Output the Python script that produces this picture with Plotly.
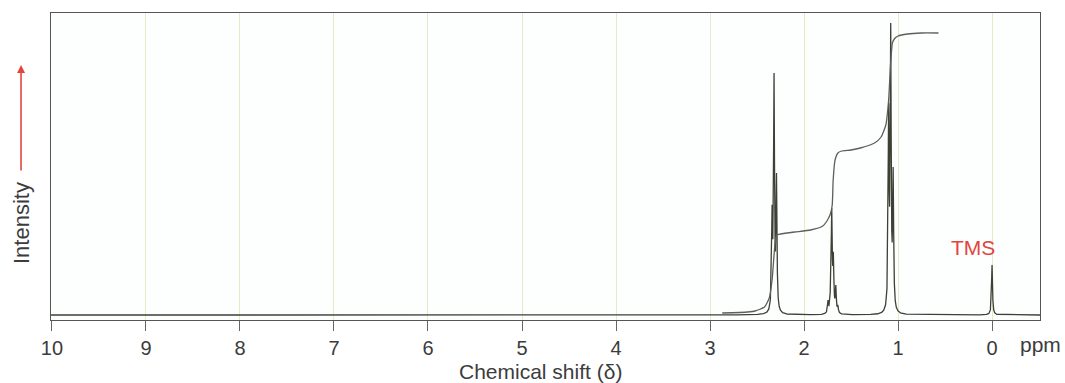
import numpy as np
import plotly.graph_objects as go

# ---- data ----
peak_ppm = [2.340, 2.319, 2.293, 1.745, 1.716, 1.705, 1.688, 1.662, 1.640, 1.100, 1.078, 1.052, 0.000]
peak_height = [110, 242, 142, 15, 42, 107, 63, 30, 10, 212, 292, 148, 50]

integ_ppm = [2.87, 2.60, 2.52, 2.42, 2.37, 2.34, 2.31, 2.29, 2.25, 2.10, 1.93, 1.80, 1.75, 1.72, 1.70,
             1.69, 1.67, 1.64, 1.60, 1.50, 1.40, 1.25, 1.18, 1.13, 1.10, 1.08, 1.06, 1.04, 1.00, 0.90, 0.75, 0.57]
integ_val = [2, 3, 4, 8, 17, 35, 70, 80, 81, 83, 85, 89, 95, 101, 110,
             135, 155, 162, 164, 165, 167, 172, 178, 190, 215, 250, 272, 276, 279, 281, 282, 282]

tick_vals = [10, 9, 8, 7, 6, 5, 4, 3, 2, 1, 0]
tick_text = ["10", "9", "8", "7", "6", "5", "4", "3", "2", "1", "0"]

# ---- build spectrum from Lorentzian lines ----
gamma = 0.006
px = np.array(peak_ppm)
ph = np.array(peak_height, dtype=float)
A = gamma**2 / ((px[:, None] - px[None, :])**2 + gamma**2)
amps = np.clip(np.linalg.solve(A, ph), 0, None)
grid = np.union1d(np.linspace(-0.51, 10.01, 21000), px)
spec = (amps[None, :] * gamma**2 / ((grid[:, None] - px[None, :])**2 + gamma**2)).sum(axis=1)

FONT = "Liberation Sans, Arial, sans-serif"
TXT = "#3c3c3c"
RED = "#e2453f"

fig = go.Figure()
fig.add_trace(go.Scatter(x=grid, y=spec, mode="lines",
                         line=dict(color="#3d4034", width=1.3), hoverinfo="skip"))
fig.add_trace(go.Scatter(x=integ_ppm, y=integ_val, mode="lines",
                         line=dict(color="#5e5e5a", width=1.3, shape="spline", smoothing=0.5),
                         hoverinfo="skip"))

fig.update_layout(
    width=1065, height=383,
    margin=dict(l=51, r=25, t=13, b=63),
    paper_bgcolor="white", plot_bgcolor="#fdfefe",
    showlegend=False,
    font=dict(family=FONT, size=20, color=TXT),
    xaxis=dict(range=[10.01, -0.51], tickvals=tick_vals, ticktext=tick_text,
               ticks="outside", ticklen=10, tickcolor="#666", tickwidth=1,
               showline=True, linecolor="#555", linewidth=1, mirror=True,
               showgrid=True, gridcolor="#e3ecc6", gridwidth=1, zeroline=False,
               ticklabelstandoff=0, tickfont=dict(size=20, color=TXT, family=FONT)),
    yaxis=dict(range=[-5, 302], showticklabels=False, ticks="", showgrid=False,
               zeroline=False, showline=True, linecolor="#555", linewidth=1, mirror=True),
    annotations=[
        dict(text="ppm", x=-0.51, xref="x", y=-0.0814, yref="paper", xanchor="center",
             yanchor="middle", showarrow=False, font=dict(size=21, color=TXT, family=FONT)),
        dict(text="Chemical shift (δ)", x=4.8, xref="x", y=-0.169, yref="paper",
             xanchor="center", yanchor="middle", showarrow=False,
             font=dict(size=21, color=TXT, family=FONT)),
        dict(text="Intensity", x=-0.0293, xref="paper", y=0.316, yref="paper",
             xanchor="center", yanchor="middle", textangle=-90, showarrow=False,
             font=dict(size=22, color=TXT, family=FONT)),
        dict(text="", x=-0.0303, xref="paper", y=0.831, yref="paper", ax=0, ay=107,
             showarrow=True, arrowhead=2, arrowsize=1, arrowwidth=1.6, arrowcolor=RED),
        dict(text="TMS", x=0.2, xref="x", y=68, yref="y", xanchor="center", yanchor="middle",
             showarrow=False, font=dict(size=21, color=RED, family=FONT)),
    ],
)

# remove the browser's default 8px body margin so the 1065x383 figure fills the window exactly
fig.write_html("out.html", config={"displayModeBar": False},
               post_script="document.body.style.margin='0';document.body.style.overflow='hidden';")
